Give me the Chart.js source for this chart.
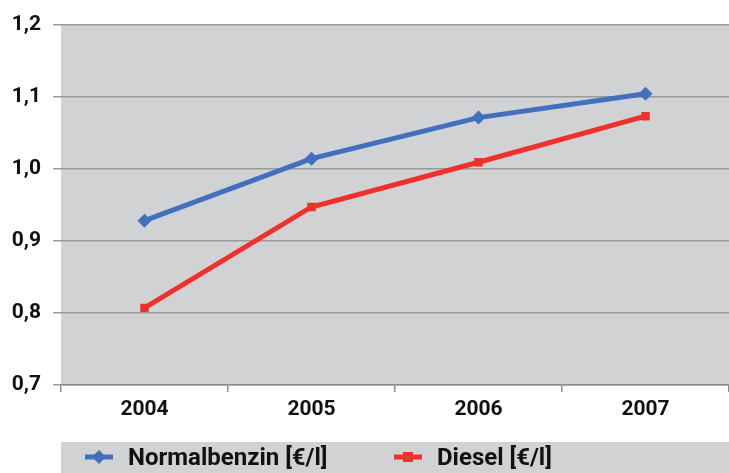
<!DOCTYPE html>
<html>
<head>
<meta charset="utf-8">
<title>Kraftstoffpreise</title>
<script src="https://cdn.jsdelivr.net/npm/chart.js@4.4.1/dist/chart.umd.min.js"></script>
<style>
  html, body { margin: 0; padding: 0; background: #fff; overflow: hidden; }
  canvas { display: block; }
</style>
</head>
<body>
<canvas id="myChart" width="729" height="473"></canvas>
<script>
var years = ['2004', '2005', '2006', '2007'];
var benzin = [0.928, 1.014, 1.071, 1.104];
var diesel = [0.807, 0.947, 1.009, 1.073];
var yTicks = [0.7, 0.8, 0.9, 1.0, 1.1, 1.2];

var blue = '#4270bf';
var red = '#f0302b';
var font = { family: 'Roboto', weight: 'bold', size: 21 };

// grey plot background + legend band at the bottom
var bgPlugin = {
  id: 'bg',
  beforeDraw: function(chart) {
    var c = chart.ctx, a = chart.chartArea;
    c.save();
    c.fillStyle = '#d1d2d4';
    c.fillRect(a.left, a.top, chart.width - a.left, a.bottom - a.top);
    c.fillRect(a.left, 442, chart.width - a.left, chart.height - 442);
    c.restore();
  },
  afterDraw: function(chart) {
    var c = chart.ctx;
    var items = [{x: 85, tx: 128}, {x: 394, tx: 437}];
    c.save();
    chart.data.datasets.forEach(function(ds, i) {
      var it = items[i], y = 457;
      c.strokeStyle = ds.borderColor;
      c.lineWidth = 5;
      c.beginPath();
      c.moveTo(it.x, y);
      c.lineTo(it.x + 28, y);
      c.stroke();
      c.fillStyle = ds.borderColor;
      var mx = it.x + 14;
      if (ds.pointStyle === 'rectRot') {
        c.beginPath();
        c.moveTo(mx, y - 7); c.lineTo(mx + 7, y); c.lineTo(mx, y + 7); c.lineTo(mx - 7, y);
        c.closePath(); c.fill();
      } else {
        c.fillRect(mx - 5, y - 5, 10, 10);
      }
      c.fillStyle = '#111';
      c.font = 'bold 24px Roboto';
      c.textBaseline = 'middle';
      c.fillText(ds.label, it.tx, y + 2);
    });
    c.restore();
  }
};

var ctx = document.getElementById('myChart').getContext('2d');
var myChart = new Chart(ctx, {
  type: 'line',
  data: {
    labels: years,
    datasets: [{
      label: 'Normalbenzin [€/l]',
      data: benzin,
      borderColor: blue,
      backgroundColor: blue,
      borderWidth: 5,
      pointStyle: 'rectRot',
      pointRadius: 7,
      pointHoverRadius: 7,
      pointBorderWidth: 0
    }, {
      label: 'Diesel [€/l]',
      data: diesel,
      borderColor: red,
      backgroundColor: red,
      borderWidth: 5,
      pointStyle: 'rect',
      pointRadius: 6,
      pointHoverRadius: 6,
      pointBorderWidth: 0
    }]
  },
  options: {
    responsive: false,
    animation: false,
    layout: { autoPadding: false, padding: { top: 24, right: 0, bottom: 0, left: 0 } },
    plugins: { legend: { display: false }, tooltip: { enabled: false } },
    scales: {
      x: {
        offset: true,
        grid: { offset: true, drawOnChartArea: false, tickLength: 7, color: '#8c8c8c', lineWidth: 1.5 },
        border: { color: '#8c8c8c', width: 1.5 },
        ticks: { color: '#111', font: font, padding: 5 },
        afterFit: function(s) { s.height = 88; s.paddingLeft = 0; s.paddingRight = 0; }
      },
      y: {
        min: 0.7,
        max: 1.2,
        afterBuildTicks: function(s) { s.ticks = yTicks.map(function(v) { return {value: v}; }); },
        grid: { color: '#9a9a9a', lineWidth: 1.5, tickLength: 8 },
        border: { display: false },
        ticks: {
          color: '#111', font: font, padding: 12,
          callback: function(v) { return v.toFixed(1).replace('.', ','); }
        },
        afterFit: function(s) { s.width = 61; }
      }
    }
  },
  plugins: [bgPlugin]
});
</script>
</body>
</html>
